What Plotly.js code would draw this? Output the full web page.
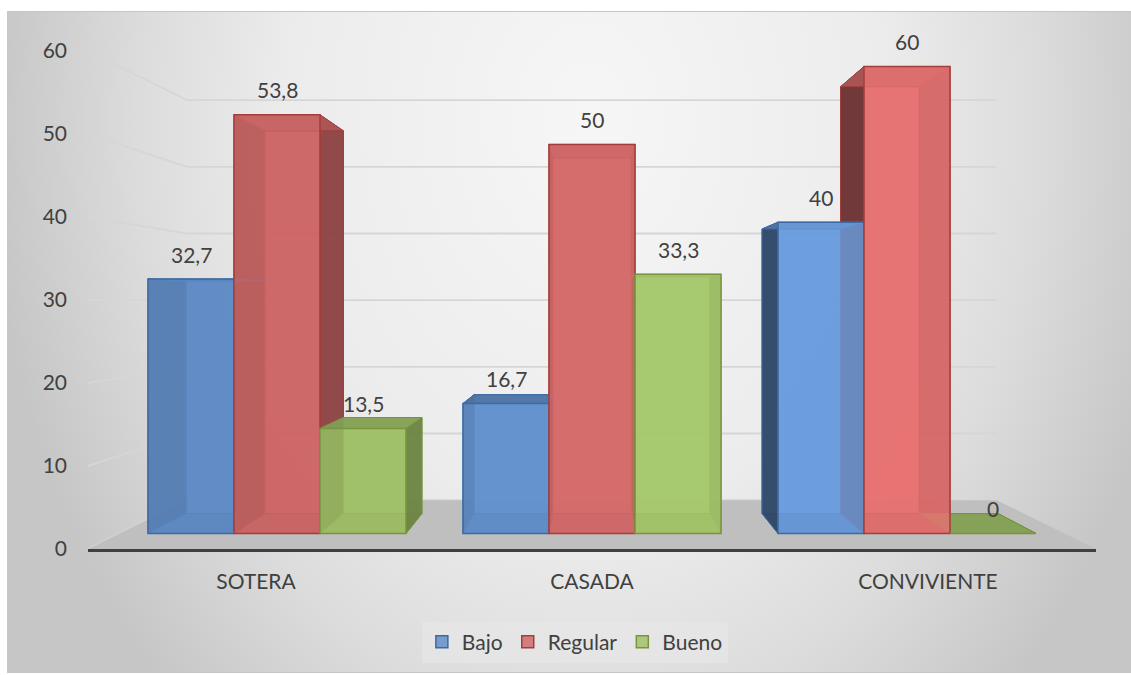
<!DOCTYPE html>
<html>
<head>
<meta charset="utf-8">
<script src="https://cdn.plot.ly/plotly-3.0.1.min.js"></script>
<style>
  html, body { margin: 0; padding: 0; background: #ffffff; }
  #frame {
    position: absolute; left: 7px; top: 11px; width: 1124px; height: 662px;
    border: 1px solid #c6c6c6; border-right: none; box-sizing: border-box;
    background: radial-gradient(ellipse 600px 800px at 580px 110px,
      #f6f6f6 0%, #ececec 50%, #dcdcdc 75%, #c6c6c6 100%);
  }
  #chart { position: absolute; left: 0; top: 0; width: 1131px; height: 675px; }
</style>
</head>
<body>
<div id="frame"></div>
<div id="chart"></div>
<script>
// ---- data ----
const categories = ['SOTERA', 'CASADA', 'CONVIVIENTE'];
const seriesNames = ['Bajo', 'Regular', 'Bueno'];
const bajo = [32.7, 16.7, 40];
const regular = [53.8, 50, 60];
const bueno = [13.5, 33.3, 0];
const yTicks = [0, 10, 20, 30, 40, 50, 60];

const seriesValues = [bajo, regular, bueno];

// ---- look ----
const FONT = 'Lato, "Open Sans", sans-serif';
const TEXT = '#404040';
const palette = [
  { face: [95, 139, 197], line: '#3d6aa3' },
  { face: [205, 102, 102], line: '#a33e3b' },
  { face: [160, 192, 104], line: '#77953f' }
];
// light falls a little stronger on the right-hand groups
const lighting = [1.0, 1.04, 1.12];

// simple perspective: every depth plane is a scaled copy of the axis plane
// toward one vanishing point (in axis units)
const VP = { x: 1.0, y: 29.88 };
const K_FRONT = 0.9375;   // front faces of the columns
const K_BACK = 0.857;     // back faces of the columns
const K_WALL = 0.803;     // back wall
const BAR_W = 0.273;      // column width in category units

function P(wx, v, k) {
  return [VP.x + k * (wx - VP.x), VP.y + k * (v - VP.y)];
}
function rgba(c, f, a) {
  const ch = x => Math.min(255, Math.round(x * f));
  return 'rgba(' + ch(c[0]) + ',' + ch(c[1]) + ',' + ch(c[2]) + ',' + a + ')';
}
function pathOf(pts) {
  return 'M' + pts.map(p => p[0].toFixed(5) + ',' + p[1].toFixed(5)).join('L') + 'Z';
}
function fmt(v) { return String(v).replace('.', ','); }

const shapes = [];
const annotations = [];
const traces = [];

// walls: gridlines on the left wall and back wall
const xLo = -0.5, xHi = 2.5;
yTicks.forEach(t => {
  const a = P(xLo, t, 1), b = P(xLo, t, K_WALL), c = P(xHi, t, K_WALL);
  shapes.push({ type: 'path', layer: 'below', xref: 'x', yref: 'y',
    path: 'M' + a.join(',') + 'L' + b.join(',') + 'L' + c.join(','),
    line: { color: '#d6d6d6', width: 1.8 } });
});

// floor
shapes.push({ type: 'path', layer: 'below', xref: 'x', yref: 'y',
  path: pathOf([P(xLo, 0, 1), P(xHi, 0, 1), P(xHi, 0, K_WALL), P(xLo, 0, K_WALL)]),
  fillcolor: '#bfbfbf', line: { width: 0 } });

// column geometry
const boxes = [];
seriesValues.forEach((vals, s) => {
  vals.forEach((v, i) => {
    const x0 = i + (s - 1.5) * BAR_W, x1 = x0 + BAR_W;
    boxes.push({ s, i, v, x0, x1 });
  });
});

function face(pts, col, f, a, s) {
  shapes.push({ type: 'path', layer: 'below', xref: 'x', yref: 'y',
    path: pathOf(pts), fillcolor: rgba(col, f, a),
    line: { color: palette[s].line, width: 1 } });
}

// back faces
boxes.forEach(b => {
  const c = palette[b.s].face;
  face([P(b.x0, 0, K_BACK), P(b.x1, 0, K_BACK), P(b.x1, b.v, K_BACK), P(b.x0, b.v, K_BACK)], c, lighting[b.i], 0.9, b.s);
});
// bottom faces
boxes.forEach(b => {
  const c = palette[b.s].face;
  face([P(b.x0, 0, K_FRONT), P(b.x1, 0, K_FRONT), P(b.x1, 0, K_BACK), P(b.x0, 0, K_BACK)], c, 0.85, 0.9, b.s);
});
// side faces
boxes.forEach(b => {
  const c = palette[b.s].face;
  face([P(b.x0, 0, K_FRONT), P(b.x0, 0, K_BACK), P(b.x0, b.v, K_BACK), P(b.x0, b.v, K_FRONT)], c, 0.5, 0.92, b.s);
  face([P(b.x1, 0, K_FRONT), P(b.x1, 0, K_BACK), P(b.x1, b.v, K_BACK), P(b.x1, b.v, K_FRONT)], c, 0.68, 0.92, b.s);
});
// top faces
boxes.forEach(b => {
  const c = palette[b.s].face;
  face([P(b.x0, b.v, K_FRONT), P(b.x1, b.v, K_FRONT), P(b.x1, b.v, K_BACK), P(b.x0, b.v, K_BACK)], c, 0.84, 0.92, b.s);
});

// front faces as bar traces, plus value labels
seriesValues.forEach((vals, s) => {
  const xs = [], ws = [], bases = [], hs = [], cols = [];
  vals.forEach((v, i) => {
    const x0 = i + (s - 1.5) * BAR_W, x1 = x0 + BAR_W;
    const bl = P(x0, 0, K_FRONT), tr = P(x1, v, K_FRONT);
    xs.push((bl[0] + tr[0]) / 2);
    ws.push(tr[0] - bl[0]);
    bases.push(bl[1]);
    hs.push(tr[1] - bl[1]);
    cols.push(rgba(palette[s].face, lighting[i], 0.82));
    annotations.push({ x: (bl[0] + tr[0]) / 2, y: tr[1], xref: 'x', yref: 'y',
      text: fmt(v), showarrow: false, yanchor: 'middle', yshift: 25,
      font: { family: FONT, size: 21, color: TEXT } });
  });
  traces.push({
    type: 'bar', name: seriesNames[s], x: xs, y: hs, base: bases, width: ws,
    marker: { color: cols, line: { color: palette[s].line, width: 1.5 } },
    hoverinfo: 'skip'
  });
});

const layout = {
  width: 1131, height: 675, autosize: false,
  margin: { l: 88, r: 35, t: 20, b: 126 },
  paper_bgcolor: 'rgba(0,0,0,0)', plot_bgcolor: 'rgba(0,0,0,0)',
  barmode: 'overlay',
  showlegend: true,
  legend: {
    orientation: 'h', x: 0.483, xanchor: 'center', y: -0.176, yanchor: 'middle',
    bgcolor: 'rgba(232,232,232,0.6)', font: { family: FONT, size: 21, color: TEXT },
    traceorder: 'normal', itemclick: false, itemdoubleclick: false
  },
  xaxis: {
    range: [xLo, xHi], tickvals: [0, 1, 2], ticktext: categories,
    showgrid: false, zeroline: false, ticks: '',
    showline: true, linecolor: '#404040', linewidth: 3,
    ticklabelstandoff: 12,
    tickfont: { family: FONT, size: 21, color: TEXT }, fixedrange: true
  },
  yaxis: {
    range: [0, 63.73], tickvals: yTicks, ticktext: yTicks.map(String),
    showgrid: false, zeroline: false, showline: false, ticks: '',
    ticklabelstandoff: 20,
    tickfont: { family: FONT, size: 21, color: TEXT }, fixedrange: true
  },
  shapes: shapes,
  annotations: annotations
};

Plotly.newPlot('chart', traces, layout, { displayModeBar: false, staticPlot: true });
</script>
</body>
</html>
